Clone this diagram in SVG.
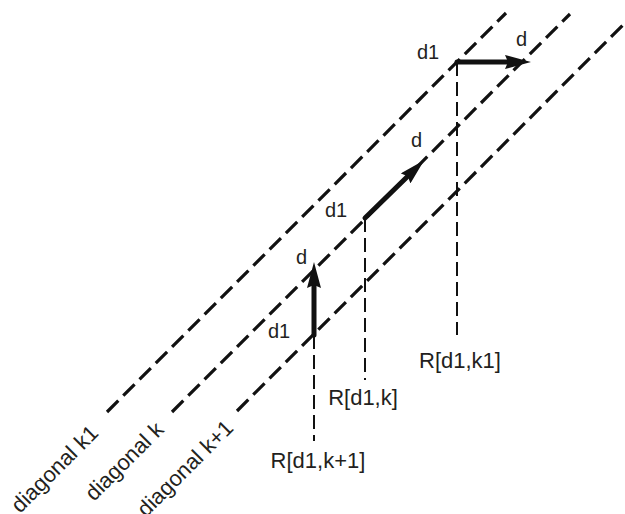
<svg xmlns="http://www.w3.org/2000/svg" width="625" height="514" viewBox="0 0 625 514">
<style>
.diag{stroke:#111;stroke-width:3.2;stroke-dasharray:16 7;fill:none}
.proj{stroke:#111;stroke-width:2;stroke-dasharray:14 6;fill:none}
.arr{stroke:#111;stroke-width:5;fill:none;stroke-linecap:round;marker-end:url(#ah)}
text{font-family:"Liberation Sans",Arial,sans-serif;fill:#231f20}
.lbl{font-size:20px}
.r{font-size:22px;text-anchor:middle}
.dg{font-size:22px}
</style>
<defs>
<marker id="ah" viewBox="0 0 26 14" markerWidth="26" markerHeight="14" refX="2" refY="7" orient="auto" markerUnits="userSpaceOnUse">
<path d="M0,0 L26,7 L0,14 L3,7 z" fill="#111"/>
</marker>
</defs>
<g id="connectors">
<line class="diag" x1="107" y1="412" x2="506" y2="13"/>
<line class="diag" x1="172" y1="412" x2="570" y2="14"/>
<line class="diag" x1="237" y1="411" x2="625" y2="23"/>
<line class="proj" x1="457" y1="62" x2="457" y2="335"/>
<line class="proj" x1="365" y1="218" x2="365" y2="380"/>
<line class="proj" x1="314" y1="335" x2="314" y2="441"/>
<line class="arr" x1="314" y1="335" x2="314" y2="286"/>
<line class="arr" x1="457" y1="62" x2="507" y2="62"/>
<line class="arr" x1="365" y1="218" x2="407" y2="177"/>
</g>
<g id="labels">
<text class="lbl" x="417" y="59">d1</text>
<text class="lbl" x="516" y="46">d</text>
<text class="lbl" x="325" y="217">d1</text>
<text class="lbl" x="411" y="147">d</text>
<text class="lbl" x="268" y="338">d1</text>
<text class="lbl" x="296" y="264">d</text>
<text class="r" x="460" y="368">R[d1,k1]</text>
<text class="r" x="363" y="405">R[d1,k]</text>
<text class="r" x="318" y="468">R[d1,k+1]</text>
</g>
<g id="diagonal-labels">
<text class="dg" transform="translate(20,514) rotate(-45)">diagonal k1</text>
<text class="dg" transform="translate(94,502) rotate(-45)">diagonal k</text>
<text class="dg" transform="translate(146,518) rotate(-45)">diagonal k+1</text>
</g>
</svg>
